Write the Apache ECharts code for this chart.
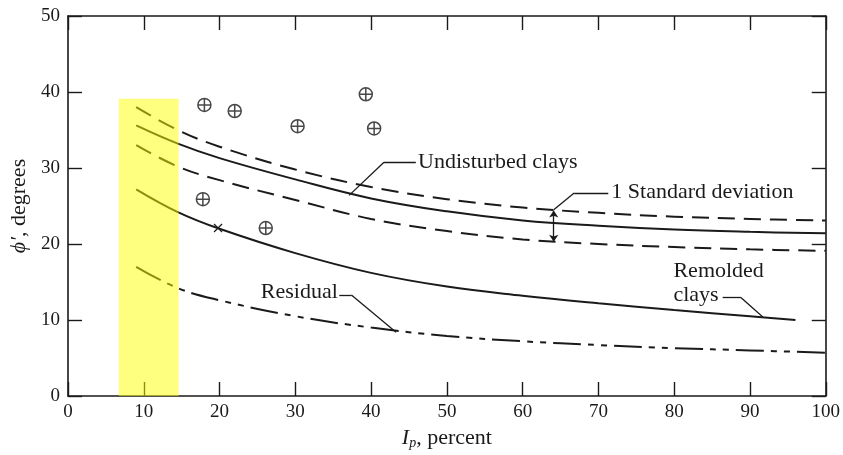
<!DOCTYPE html>
<html>
<head>
<meta charset="utf-8">
<script src="https://cdn.jsdelivr.net/npm/echarts@6/dist/echarts.min.js"></script>
<style>
  html, body { margin: 0; padding: 0; background: #fff; }
  #main { width: 843px; height: 455px; }
</style>
</head>
<body>
<div id="main"></div>
<script>
// x positions (Ip, percent) where the curves were read
var ipValues = [9, 14.5, 20, 30, 40, 50, 60, 70, 80, 90, 100];
var ipRemolded = [9, 14.5, 20, 30, 40, 50, 60, 70, 80, 90, 96];

// phi' (degrees)
var undisturbedUpper = [38.0, 35.0, 32.8, 29.8, 27.5, 25.9, 24.8, 24.1, 23.6, 23.3, 23.1];
var undisturbedMean  = [35.6, 33.2, 31.3, 28.5, 26.0, 24.3, 23.1, 22.4, 21.9, 21.6, 21.4];
var undisturbedLower = [33.0, 30.2, 28.4, 25.8, 23.3, 21.7, 20.6, 20.0, 19.6, 19.3, 19.1];
var remolded         = [27.2, 24.2, 22.0, 18.8, 16.2, 14.4, 13.2, 12.2, 11.3, 10.5, 10.0];
var residual         = [17.0, 14.2, 12.6, 10.5, 9.0, 7.9, 7.2, 6.7, 6.3, 6.0, 5.7];

// test points (circled plus)
var pointsX = [18.0, 22.0, 30.3, 39.3, 40.4, 17.8, 26.1];
var pointsY = [38.3, 37.5, 35.5, 39.7, 35.2, 25.9, 22.1];

// highlighted band
var bandX = [6.7, 14.6];
var bandY = [0, 39.1];

var xTicks = { min: 0, max: 100, interval: 10 };
var yTicks = { min: 0, max: 50, interval: 10 };

function pairs(xs, ys) {
  return xs.map(function (x, i) { return [x, ys[i]]; });
}

var ink = '#1a1a1a';
var serif = 'Liberation Serif';

var chart = echarts.init(document.getElementById('main'));

function axisBase(pos, showLabel, isX) {
  var t = isX ? xTicks : yTicks;
  return {
    type: 'value',
    position: pos,
    min: t.min,
    max: t.max,
    interval: t.interval,
    axisLine: { show: true, onZero: false, lineStyle: { color: ink, width: 1.6 } },
    axisTick: { show: true, inside: true, length: 14, lineStyle: { color: ink, width: 1.4 } },
    axisLabel: {
      show: showLabel,
      color: ink,
      fontFamily: serif,
      fontSize: 19,
      margin: isX ? 7 : 8
    },
    splitLine: { show: false }
  };
}

var xBottom = axisBase('bottom', true, true);
xBottom.name = '{i|I}{sub|p}{n|, percent}';
xBottom.nameLocation = 'middle';
xBottom.nameGap = 30;
xBottom.nameTextStyle = {
  rich: {
    i: { fontFamily: serif, fontStyle: 'italic', fontSize: 22, color: ink },
    sub: { fontFamily: serif, fontStyle: 'italic', fontSize: 14, color: ink, verticalAlign: 'bottom', padding: [10, 0, 0, 0] },
    n: { fontFamily: serif, fontSize: 22, color: ink }
  }
};
var xTop = axisBase('top', false, true);

var yLeft = axisBase('left', true, false);
yLeft.name = '{i|ϕ′}{n|, degrees}';
yLeft.nameLocation = 'middle';
yLeft.nameGap = 38;
yLeft.nameRotate = 90;
yLeft.nameTextStyle = {
  rich: {
    i: { fontFamily: serif, fontStyle: 'italic', fontSize: 22, color: ink },
    n: { fontFamily: serif, fontSize: 22, color: ink }
  }
};
var yRight = axisBase('right', false, false);

var annoText = { fontFamily: serif, fontSize: 22, color: ink };

function leader(segs) {
  return segs.map(function (s) {
    return [{ coord: [s[0], s[1]] }, { coord: [s[2], s[3]] }];
  });
}

function curve(name, xs, ys, dash) {
  return {
    name: name,
    type: 'line',
    smooth: 0.4,
    symbol: 'none',
    data: pairs(xs, ys),
    lineStyle: { color: ink, width: 2, type: dash || 'solid' }
  };
}

var option = {
  animation: false,
  backgroundColor: '#fff',
  grid: { left: 68, right: 15, top: 16, bottom: 52 },
  xAxis: [xBottom, xTop],
  yAxis: [yLeft, yRight],
  series: [
    curve('upper', ipValues, undisturbedUpper, [17, 9]),
    curve('mean', ipValues, undisturbedMean),
    curve('lower', ipValues, undisturbedLower, [17, 9]),
    curve('remolded', ipRemolded, remolded),
    curve('residual', ipValues, residual, [28, 7, 6, 7, 6, 7]),
    {
      name: 'tests',
      type: 'scatter',
      symbol: 'path://M10,0A10,10,0,1,1,-10,0A10,10,0,1,1,10,0ZM-10,0L10,0M0,-10L0,10',
      symbolSize: 13,
      itemStyle: { color: 'rgba(0,0,0,0)', borderColor: ink, borderWidth: 1.5 },
      data: pairs(pointsX, pointsY)
    },
    {
      // leader lines, labels and the standard deviation arrow
      name: 'notes',
      type: 'line',
      data: [],
      markLine: {
        silent: true,
        symbol: 'none',
        label: { show: false },
        lineStyle: { color: ink, width: 1.3, type: 'solid' },
        data: leader([
          [45.9, 30.75, 41.7, 30.75], [41.7, 30.75, 37.1, 26.4],
          [71.3, 26.7, 66.8, 26.7], [66.8, 26.7, 64.1, 24.5],
          [86.4, 12.96, 88.8, 12.96], [88.8, 12.96, 91.7, 10.4],
          [35.8, 13.3, 37.4, 13.3], [37.4, 13.3, 43.3, 8.4]
        ]).concat([
          [{ coord: [64.1, 24.4], symbol: 'arrow', symbolSize: 7 },
           { coord: [64.1, 20.3], symbol: 'arrow', symbolSize: 7 }]
        ])
      },
      markPoint: {
        silent: true,
        symbol: 'circle',
        symbolSize: 0,
        data: [
          { coord: [46.2, 30.75], label: { show: true, position: 'right', distance: 0, formatter: 'Undisturbed clays', textStyle: annoText } },
          { coord: [71.7, 26.8], label: { show: true, position: 'right', distance: 0, formatter: '1 Standard deviation', textStyle: annoText } },
          { coord: [79.9, 14.8], label: { show: true, position: 'right', distance: 0, formatter: 'Remolded\nclays', lineHeight: 24, textStyle: annoText } },
          { coord: [35.6, 13.6], label: { show: true, position: 'left', distance: 0, formatter: 'Residual', textStyle: annoText } },
          { coord: [19.8, 22.1], symbol: 'path://M-1,-1L1,1M-1,1L1,-1', symbolSize: 8,
            itemStyle: { color: 'rgba(0,0,0,0)', borderColor: ink, borderWidth: 1.2 } }
        ]
      }
    },
    {
      name: 'band',
      type: 'line',
      data: [],
      z: 10,
      markArea: {
        silent: true,
        z: 10,
        itemStyle: { color: 'rgba(255,255,0,0.5)' },
        data: [[{ coord: [bandX[0], bandY[0]] }, { coord: [bandX[1], bandY[1]] }]]
      }
    }
  ]
};

chart.setOption(option);
</script>
</body>
</html>
